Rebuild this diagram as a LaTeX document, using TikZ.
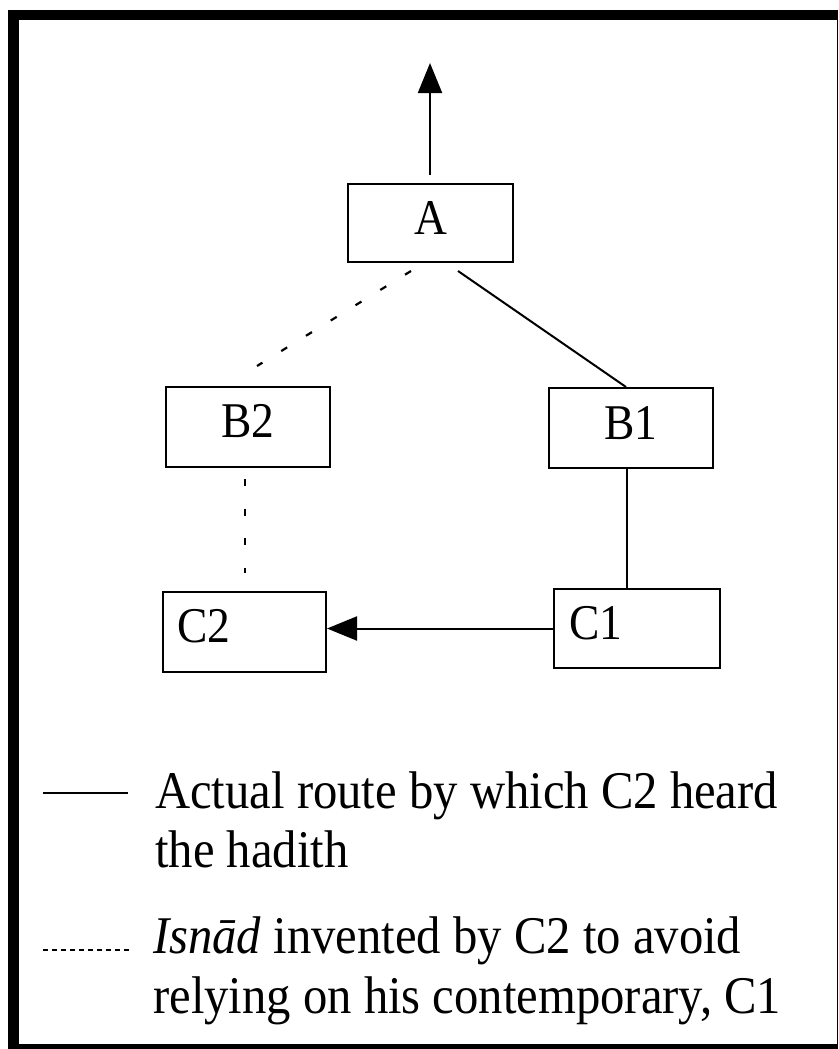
\documentclass[tikz,border=0pt]{standalone}
\usepackage{graphicx}
\usepackage{fontspec}
\setmainfont{Liberation Serif}
\usetikzlibrary{arrows.meta}
\begin{document}
\begin{tikzpicture}[x=1pt,y=-1pt,
  box/.style={draw, line width=2pt, inner sep=0pt, text depth=11pt, font=\fontsize{50}{60}\selectfont},
  lbox/.style={box, align=left, inner xsep=14pt, text depth=12pt},
  legtext/.style={anchor=base west, inner sep=0pt, font=\fontsize{53}{60}\selectfont},
  conn/.style={line width=2pt},
  dotconn/.style={line width=2.2pt, dash pattern=on 7pt off 22.1pt},
  tip/.style={-{Triangle[length=30pt,width=24pt]}}
]
\useasboundingbox (0,0) rectangle (838,1049);
\fill[white] (0,0) rectangle (838,1049);
% frame
\fill[black] (8,10) rectangle (838,1049);
\fill[white] (19,20) rectangle (836.5,1044);

% boxes
\node[box, minimum width=165pt, minimum height=78pt] (A) at (430.5,223) {\scalebox{0.91}[1]{A}};
\node[box, minimum width=164pt, minimum height=80pt, text depth=12pt] (B2) at (248,427) {\scalebox{0.91}[1]{B2}};
\node[box, minimum width=164pt, minimum height=80pt] (B1) at (631,428) {\scalebox{0.91}[1]{B1}};
\node[lbox, text width=135pt, minimum height=80pt] (C2) at (244.5,632) {\scalebox{0.91}[1]{C2}};
\node[lbox, text width=136pt, inner xsep=15pt, minimum height=79pt, text depth=11pt] (C1) at (637,628.5) {\scalebox{0.91}[1]{C1}};

\coordinate (top) at (430,63);

% connectors
\draw[conn, tip] ([shift={(-0.5,-8)}]A.north) -- (top);
\draw[dotconn] ([shift={(-19.5,8)}]A.south) -- ([shift={(9,-20)}]B2.north);
\draw[conn] ([shift={(27.5,8)}]A.south) -- ([shift={(-5,0)}]B1.north);
\draw[line width=2.2pt, dash pattern=on 7pt off 22.6pt] ([shift={(-3,11)}]B2.south) -- ([shift={(0.5,-18)}]C2.north);
\draw[conn] ([xshift=-4pt]B1.south) -- ([xshift=-10pt]C1.north);
\draw[conn, tip] (C1.west) -- (C2.east |- C1.west);

% legend
\coordinate (l1a) at (43,793);
\coordinate (l1b) at (128,793);
\coordinate (l2a) at (43,950);
\coordinate (l2b) at (131,950);
\draw[line width=2pt] (l1a) -- (l1b);
\draw[line width=1.5pt, dash pattern=on 5pt off 4pt] (l2a) -- (l2b);

\node[legtext] (t1) at (155,808) {\scalebox{0.918}[1]{Actual route by which C2 heard}};
\node[legtext] (t2) at (155,867) {\scalebox{0.918}[1]{the hadith}};
\node[legtext] (t3) at (153,953) {\scalebox{0.918}[1]{\textit{Isnād} invented by C2 to avoid}};
\node[legtext] (t4) at (153,1013) {\scalebox{0.918}[1]{relying on his contemporary, C1}};
\end{tikzpicture}
\end{document}
